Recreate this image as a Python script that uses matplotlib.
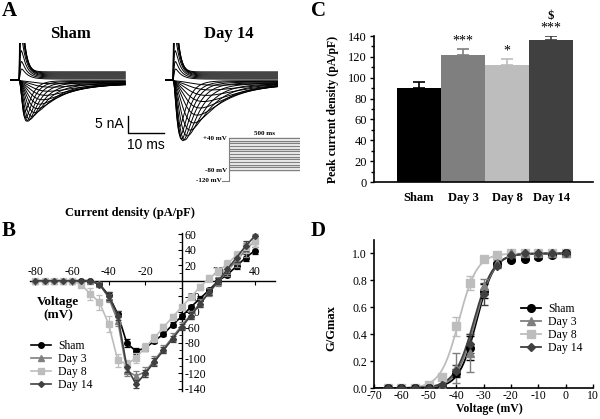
import numpy as np
import matplotlib.pyplot as plt
from matplotlib.lines import Line2D
from matplotlib.ticker import MultipleLocator

plt.rcParams['font.family'] = ['Liberation Serif', 'DejaVu Serif']
plt.rcParams['axes.unicode_minus'] = False

# ---------------- data ----------------
groups = ['Sham', 'Day 3', 'Day 8', 'Day 14']
colors = ['black', '#7f7f7f', '#bdbdbd', '#404040']
markers = ['o', '^', 's', 'D']

# C: peak current density
peak = [90.5, 121.8, 112.5, 136.2]
peak_err = [5.0, 5.4, 5.5, 3.6]
stars = ['', '***', '*', '***']

# B: I-V relation
iv_v = list(range(-80, 45, 5))
iv_sham = [0, 0, 0, 0, 0, 0, 0, -4, -19, -43, -81, -91, -87, -78, -69, -57, -46,
           -34, -23, -12, 0, 8, 19, 30, 39]
iv_d3 = [0, 0, 0, 0, 0, 0, 0, -4, -22, -52, -117, -123, -118, -103, -88, -73, -58,
         -44, -29, -15, -1, 13, 26, 40, 52]
iv_d8 = [0, 0, 0, 0, 0, -5, -17, -28, -56, -103, -108, -100, -86, -74, -60, -47, -34,
         -21, -8, 3, 12, 22, 33, 43, 51]
iv_d14 = [0, 0, 0, 0, 0, 0, 0, -5, -20, -45, -112, -134, -120, -105, -90, -75, -60,
          -45, -30, -15, 0, 15, 30, 45, 58]
iv_sham_err = [0, 0, 0, 0, 0, 0, 0, 2, 4, 4, 5, 4, 4, 3, 3, 3, 3, 3, 3, 3, 3, 3, 4, 4, 5]
iv_d3_err = [0, 0, 0, 0, 0, 0, 0, 2, 5, 6, 6, 6, 6, 6, 5, 5, 5, 5, 5, 5, 6, 7, 8, 9, 9]
iv_d8_err = [0, 0, 0, 0, 0, 3, 8, 10, 10, 8, 6, 6, 5, 5, 4, 4, 4, 4, 4, 4, 5, 5, 6, 7, 8]
iv_d14_err = [0, 0, 0, 0, 0, 0, 0, 2, 5, 6, 6, 5, 5, 5, 4, 4, 4, 4, 4, 4, 4, 5, 6, 7, 6]

# D: activation (G/Gmax)
gv_v = list(range(-65, 5, 5))
gv_sham = [0, 0, 0, 0, 0.01, 0.11, 0.30, 0.72, 0.92, 0.955, 0.96, 0.97, 0.985, 1.0]
gv_d3 = [0, 0, 0, 0, 0.02, 0.15, 0.26, 0.76, 0.93, 1.0, 1.0, 1.0, 1.0, 1.0]
gv_d8 = [0, 0, 0, 0.02, 0.08, 0.46, 0.78, 0.96, 0.99, 1.0, 1.0, 1.0, 1.0, 1.0]
gv_d14 = [0, 0, 0, 0, 0.02, 0.13, 0.33, 0.70, 0.91, 0.99, 1.0, 1.0, 1.0, 1.0]
gv_sham_err = [0, 0, 0, 0, 0.01, 0.03, 0.09, 0.05, 0.02, 0.01, 0.01, 0.01, 0.01, 0]
gv_d3_err = [0, 0, 0, 0, 0.01, 0.11, 0.14, 0.05, 0.02, 0, 0, 0, 0, 0]
gv_d8_err = [0, 0, 0, 0.01, 0.02, 0.07, 0.05, 0.01, 0.01, 0, 0, 0, 0, 0]
gv_d14_err = [0, 0, 0, 0, 0.01, 0.04, 0.07, 0.08, 0.02, 0.01, 0, 0, 0, 0]
vhalf = [-32.5, -33.0, -39.0, -33.5]
slope = [3.2, 3.4, 3.3, 3.5]

# A: raw traces (peak nA, time to peak ms)
sham_in_amp = [0.8, 1.6, 2.6, 3.6, 4.8, 6.0, 7.2, 8.4, 9.6, 10.6, 11.3, 11.5, 10.8, 9.0]
sham_in_tp = [10, 9, 8.2, 7.4, 6.6, 5.8, 5.1, 4.4, 3.6, 3.0, 2.5, 2.1, 1.8, 1.6]
sham_in_sus = [-0.3, -0.5, -0.7, -0.9, -1.0, -1.1, -1.2, -1.2, -1.1, -1.0, -0.8, -0.6, -0.4, -0.2]
sham_out_amp = [3, 5, 8, 12, 16, 20, 24, 28]
sham_out_tm = [0.25, 0.22, 0.2, 0.18, 0.17, 0.16, 0.15, 0.14]
sham_out_tau = [1.6, 1.5, 1.4, 1.3, 1.2, 1.1, 1.0, 0.9]
sham_out_sus = [0.3, 0.6, 0.9, 1.2, 1.5, 1.8, 2.1, 2.4]

d14_in_amp = [1.2, 2.4, 3.8, 5.4, 7.2, 9.2, 11.4, 13.5, 15.3, 16.6, 17.0, 16.8, 15.8, 13.5]
d14_in_tp = [12, 10.5, 9.4, 8.5, 7.6, 6.8, 5.8, 4.8, 4.0, 3.3, 2.8, 2.4, 2.1, 1.8]
d14_in_sus = [-0.3, -0.5, -0.7, -0.9, -1.0, -1.1, -1.2, -1.2, -1.1, -1.0, -0.8, -0.6, -0.4, -0.2]
d14_out_amp = [3, 5, 8, 12, 16, 20, 24, 28]
d14_out_tm = [0.25, 0.22, 0.2, 0.18, 0.17, 0.16, 0.15, 0.14]
d14_out_tau = [1.6, 1.5, 1.4, 1.3, 1.2, 1.1, 1.0, 0.9]
d14_out_sus = [0.3, 0.6, 0.9, 1.2, 1.5, 1.8, 2.1, 2.4]

# protocol steps (mV)
step_levels = list(range(-80, 50, 10))


def fpos(x, y_top, w, h):
    # pixel box (from top-left) -> figure fraction
    return [x / 600, 1 - (y_top + h) / 419, w / 600, h / 419]


fig = plt.figure(figsize=(6, 4.19), dpi=100)

for letter, x, y in [('A', 2, 1), ('B', 2, 221), ('C', 311, 1), ('D', 311, 221)]:
    fig.text(x / 600, 1 - y / 419, letter, fontsize=15, fontweight='bold', va='top')

# ---------------- A ----------------
t = np.linspace(-2.5, 29.5, 1200)


def trace(amp, tm, tau, sus):
    tt = np.clip(t, 0, None)
    g = (1 - np.exp(-tt / tm)) ** 3 * np.exp(-tt / tau)
    g = g / g.max()
    y = amp * g + sus * (1 - np.exp(-tt / 0.5))
    y[t < 0] = 0
    return y


def draw_traces(ax, in_amp, in_tp, in_sus, out_amp, out_tm, out_tau, out_sus):
    for a, tp, s in zip(in_amp, in_tp, in_sus):
        tm = tp / 2.14
        ax.plot(t, trace(-a, tm, 2.5 * tm, s), color='black', lw=0.7)
    for a, tm, tau, s in zip(out_amp, out_tm, out_tau, out_sus):
        ax.plot(t, trace(a, tm, tau, s), color='black', lw=0.7)
    ax.set_axis_off()


axs = fig.add_axes(fpos(10, 43, 116, 79))
draw_traces(axs, sham_in_amp, sham_in_tp, sham_in_sus,
            sham_out_amp, sham_out_tm, sham_out_tau, sham_out_sus)
axs.set_xlim(-2.5, 29.7)
axs.set_ylim(-12.35, 10.9)

ax14 = fig.add_axes(fpos(165, 43, 113, 99))
draw_traces(ax14, d14_in_amp, d14_in_tp, d14_in_sus,
            d14_out_amp, d14_out_tm, d14_out_tau, d14_out_sus)
ax14.set_xlim(-2.2, 29.2)
ax14.set_ylim(-18.2, 10.9)

fig.text(70 / 600, 1 - 34 / 419, 'Sham', fontsize=12, fontweight='bold', ha='center', va='center')
fig.text(229 / 600, 1 - 34 / 419, 'Day 14', fontsize=12, fontweight='bold', ha='center', va='center')

# scale bar (5 nA, 10 ms)
axs.plot([30.3, 30.3, 40.3], [-10.6, -15.6, -15.6], color='black', lw=1.0, clip_on=False)
axs.text(29.0, -13.0, '5 nA', family='Liberation Sans', fontsize=10, ha='right', va='center')
axs.text(35.3, -19.2, '10 ms', family='Liberation Sans', fontsize=10, ha='center', va='center')

# voltage protocol
axp = fig.add_axes(fpos(229, 137, 71, 44.7))
for lv in step_levels:
    axp.plot([0, 500], [lv, lv], color='#808080', lw=1.0, solid_capstyle='butt')
axp.plot([-50, 0, 0], [-120, -120, 40], color='#808080', lw=0.8, clip_on=False)
axp.set_xlim(0, 500)
axp.set_ylim(-123.75, 43.75)
axp.set_axis_off()
fs_p = 5
axp.text(-15, 40, '+40 mV', fontsize=fs_p, fontweight='bold', ha='right', va='center')
axp.text(-15, -80, '-80 mV', fontsize=fs_p, fontweight='bold', ha='right', va='center')
axp.text(-55, -120, '-120 mV', fontsize=fs_p, fontweight='bold', ha='right', va='center')
axp.text(250, 58, '500 ms', fontsize=fs_p, fontweight='bold', ha='center', va='center')

# ---------------- C ----------------
axc = fig.add_axes(fpos(374, 36, 219, 146))
xs = np.arange(len(groups))
for i in range(len(groups)):
    axc.bar(xs[i], peak[i], width=1.0, color=colors[i], edgecolor='none',
            yerr=[[0], [peak_err[i]]], capsize=4,
            error_kw=dict(ecolor=colors[i], elinewidth=1.2, capthick=1.2))
    if stars[i]:
        axc.text(xs[i], peak[i] + peak_err[i] + 1.5, stars[i], ha='center', va='bottom', fontsize=10)
axc.text(3, 153, '$', ha='center', va='bottom', fontsize=9, fontweight='bold')
axc.set_xlim(-1.02, 3.95)
axc.set_ylim(0, 140)
axc.yaxis.set_major_locator(MultipleLocator(20))
axc.yaxis.set_minor_locator(MultipleLocator(10))
axc.set_xticks(xs)
axc.set_xticklabels(groups, fontweight='bold', fontsize=9)
axc.tick_params(axis='x', length=0, pad=7)
axc.tick_params(axis='y', labelsize=9, length=3, width=1, pad=2)
axc.tick_params(axis='y', which='minor', length=2, width=1)
for s in ['top', 'right']:
    axc.spines[s].set_visible(False)
for s in ['left', 'bottom']:
    axc.spines[s].set_linewidth(1.2)
axc.set_ylabel('Peak current density (pA/pF)', fontsize=8.5, fontweight='bold')
axc.yaxis.set_label_coords(-0.16, 0.5)

# ---------------- B ----------------
axb = fig.add_axes(fpos(30, 232.8, 245, 157.7))
iv_sets = [(iv_sham, iv_sham_err), (iv_d3, iv_d3_err), (iv_d8, iv_d8_err), (iv_d14, iv_d14_err)]
msz = [4, 4.5, 4.5, 3]
for i, (vals, err) in enumerate(iv_sets):
    axb.errorbar(iv_v, vals, yerr=err, color=colors[i], marker=markers[i], ms=msz[i],
                 lw=1.2, elinewidth=0.9, capsize=2, capthick=0.9, zorder=3 + i * 0.1)
axb.set_xlim(-83, 51)
axb.set_ylim(-142, 62)
axb.spines['top'].set_position(('data', 0))
axb.spines['right'].set_position(('data', 0))
axb.spines['bottom'].set_visible(False)
axb.spines['left'].set_visible(False)
axb.spines['top'].set_linewidth(1.0)
axb.spines['right'].set_linewidth(1.0)
axb.xaxis.tick_top()
axb.yaxis.tick_right()
axb.set_xticks([-80, -60, -40, -20, 20, 40])
axb.set_yticks([60, 40, 20, -20, -40, -60, -80, -100, -120, -140])
axb.yaxis.set_minor_locator(MultipleLocator(10))
axb.tick_params(axis='both', direction='in', labelsize=8.5, length=3, pad=2)
axb.tick_params(axis='y', which='minor', direction='in', length=2)
fig.text(130 / 600, 1 - 213 / 419, 'Current density (pA/pF)', fontsize=9, fontweight='bold',
         ha='center', va='center')
fig.text(58 / 600, 1 - 309 / 419, 'Voltage\n(mV)', fontsize=9.5, fontweight='bold',
         ha='center', va='center', linespacing=1.15)

handles_b = [Line2D([], [], color=colors[i], marker=markers[i], ms=msz[i], lw=1.2) for i in range(4)]
fig.legend(handles_b, groups, loc='upper left', bbox_to_anchor=(31 / 600, 1 - 340 / 419),
           frameon=False, fontsize=8.5, handlelength=1.7, handletextpad=0.6,
           labelspacing=0.08, borderpad=0, borderaxespad=0)

# ---------------- D ----------------
axd = fig.add_axes(fpos(374, 240, 219, 148))
gv_sets = [(gv_sham, gv_sham_err), (gv_d3, gv_d3_err), (gv_d8, gv_d8_err), (gv_d14, gv_d14_err)]
vfit = np.linspace(-70, 0, 400)
order = [2, 0, 1, 3]
msd = [5.5, 5.5, 5.5, 4]
for i in order:
    vals, err = gv_sets[i]
    axd.plot(vfit, 1 / (1 + np.exp((vhalf[i] - vfit) / slope[i])), color=colors[i], lw=1.3, zorder=2)
    axd.errorbar(gv_v, vals, yerr=err, color=colors[i], marker=markers[i], ms=msd[i], ls='none',
                 elinewidth=1.0, capsize=3, capthick=1.0, zorder=3)
axd.set_xlim(-70, 10)
axd.set_ylim(0, 1.1)
axd.set_xticks(range(-70, 11, 10))
axd.set_yticks(np.arange(0, 1.01, 0.2))
axd.yaxis.set_major_formatter(plt.FormatStrFormatter('%.1f'))
axd.tick_params(axis='y', labelsize=8.5, length=3, width=1, pad=2)
axd.tick_params(axis='x', labelsize=8.5, direction='in', length=3, width=1, pad=1.5)
for s in ['top', 'right']:
    axd.spines[s].set_visible(False)
for s in ['left', 'bottom']:
    axd.spines[s].set_linewidth(1.2)
axd.set_xlabel('Voltage (mV)', fontsize=8.5, fontweight='bold')
axd.xaxis.set_label_coords(0.525, -0.1)
axd.set_ylabel('G/Gmax', fontsize=9, fontweight='bold')
axd.yaxis.set_label_coords(-0.165, 0.405)

handles_d = [Line2D([], [], color=colors[i], marker=markers[i], ms=msd[i], lw=1.3) for i in range(4)]
fig.legend(handles_d, groups, loc='upper left', bbox_to_anchor=(521 / 600, 1 - 303 / 419),
           frameon=False, fontsize=8.5, handlelength=1.7, handletextpad=0.6,
           labelspacing=0.08, borderpad=0, borderaxespad=0)

fig.savefig('out.png', dpi=100)
